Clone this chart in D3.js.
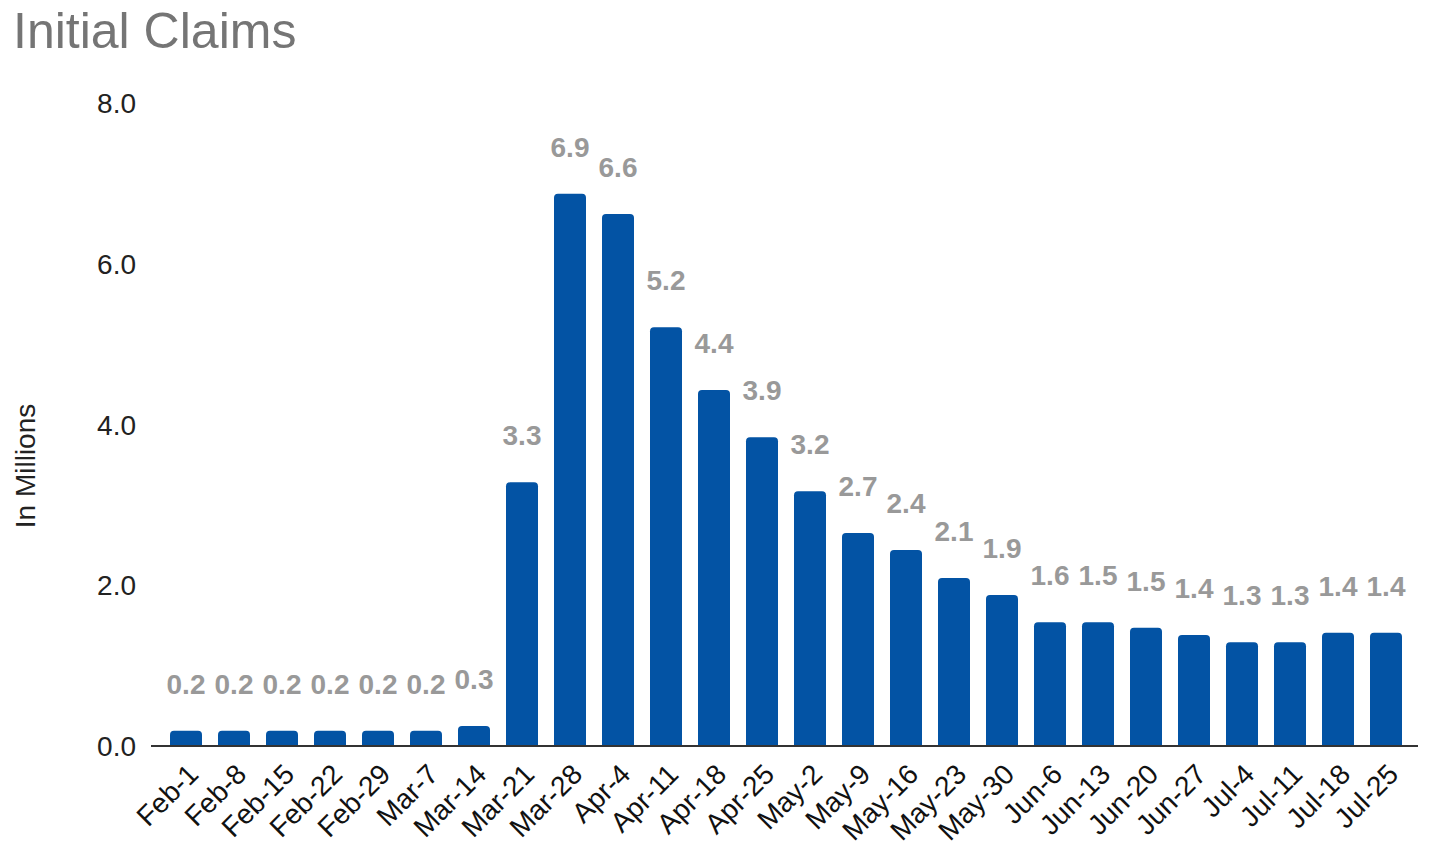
<!DOCTYPE html>
<html>
<head>
<meta charset="utf-8">
<script src="https://cdn.jsdelivr.net/npm/d3@7"></script>
<style>
  body { margin: 0; background: #fff; }
  text { font-family: "Liberation Sans", Arial, sans-serif; }
</style>
</head>
<body>
<svg id="chart" width="1437" height="863"></svg>
<script>
// weekly initial claims, millions
const weeks = ["Feb-1","Feb-8","Feb-15","Feb-22","Feb-29","Mar-7","Mar-14","Mar-21","Mar-28",
  "Apr-4","Apr-11","Apr-18","Apr-25","May-2","May-9","May-16","May-23","May-30",
  "Jun-6","Jun-13","Jun-20","Jun-27","Jul-4","Jul-11","Jul-18","Jul-25"];
const claims = [0.19, 0.19, 0.19, 0.19, 0.19, 0.19, 0.25, 3.28, 6.87,
  6.62, 5.21, 4.43, 3.84, 3.17, 2.65, 2.44, 2.09, 1.88,
  1.54, 1.54, 1.47, 1.38, 1.29, 1.29, 1.41, 1.41];
const labels = ["0.2","0.2","0.2","0.2","0.2","0.2","0.3","3.3","6.9",
  "6.6","5.2","4.4","3.9","3.2","2.7","2.4","2.1","1.9",
  "1.6","1.5","1.5","1.4","1.3","1.3","1.4","1.4"];
const yTicks = [0, 2, 4, 6, 8];

const svg = d3.select("#chart");

const x = d3.scaleBand()
    .domain(weeks)
    .range([162, 1410])
    .paddingInner(1/3)
    .paddingOuter(1/6);

const y = d3.scaleLinear()
    .domain([0, 8])
    .range([746, 103]);

// title
svg.append("text")
    .attr("x", 13)
    .attr("y", 48)
    .attr("font-size", 50)
    .attr("fill", "#757575")
    .text("Initial Claims");

// y axis title
svg.append("text")
    .attr("transform", "translate(35,466) rotate(-90)")
    .attr("text-anchor", "middle")
    .attr("font-size", 28)
    .attr("fill", "#222")
    .text("In Millions");

// y ticks (no gridlines)
svg.append("g")
  .selectAll("text")
  .data(yTicks)
  .join("text")
    .attr("x", 136)
    .attr("y", d => y(d))
    .attr("dy", "0.36em")
    .attr("text-anchor", "end")
    .attr("font-size", 28)
    .attr("fill", "#222")
    .text(d => d3.format(".1f")(d));

// bars with slightly rounded tops
const r = 4;
svg.append("g")
  .selectAll("path")
  .data(claims)
  .join("path")
    .attr("fill", "#0353A4")
    .attr("d", (d, i) => {
      const x0 = x(weeks[i]), w = x.bandwidth();
      const top = y(d), base = y(0);
      return `M${x0},${base}V${top + r}Q${x0},${top} ${x0 + r},${top}` +
             `H${x0 + w - r}Q${x0 + w},${top} ${x0 + w},${top + r}V${base}Z`;
    });

// value labels
svg.append("g")
  .selectAll("text")
  .data(claims)
  .join("text")
    .attr("x", (d, i) => x(weeks[i]) + x.bandwidth() / 2)
    .attr("y", d => y(d) - 37)
    .attr("text-anchor", "middle")
    .attr("font-size", 28)
    .attr("font-weight", "bold")
    .attr("fill", "#999")
    .text((d, i) => labels[i]);

// baseline
svg.append("line")
    .attr("x1", 151)
    .attr("x2", 1418)
    .attr("y1", y(0))
    .attr("y2", y(0))
    .attr("stroke", "#333")
    .attr("stroke-width", 2);

// x labels, rotated
svg.append("g")
  .selectAll("text")
  .data(weeks)
  .join("text")
    .attr("transform", d => `translate(${x(d) + x.bandwidth() / 2 + 14},${y(0) + 30}) rotate(-45)`)
    .attr("text-anchor", "end")
    .attr("font-size", 28)
    .attr("fill", "#111")
    .text(d => d);
</script>
</body>
</html>
